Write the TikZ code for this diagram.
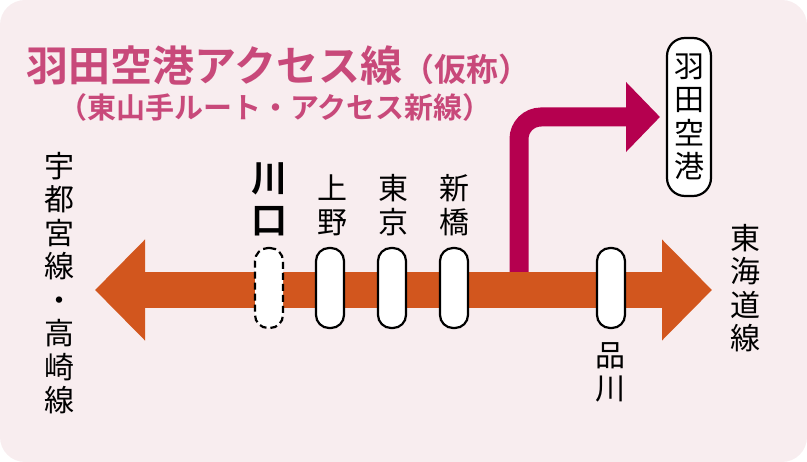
\documentclass[tikz,border=0pt]{standalone}
\usepackage{fontspec}
\setmainfont{Noto Sans CJK JP}
\newfontfamily\cjkbold{Noto Sans CJK JP Bold}
\usetikzlibrary{arrows.meta,positioning}
\definecolor{bgpink}{HTML}{F8EDEF}
\definecolor{titlepink}{HTML}{C8497A}
\definecolor{linered}{HTML}{B5004F}
\definecolor{lineorange}{HTML}{D2561E}
\begin{document}
\begin{tikzpicture}[x=1pt,y=-1pt,
  station/.style={draw, line width=2.2pt, fill=white, rounded corners=13pt, minimum width=28pt, minimum height=80pt, inner sep=0pt},
  vlabel/.style={align=center, font=\fontsize{30}{33.5}\selectfont, inner sep=0pt}]
    \useasboundingbox (0,0) rectangle (807,462);
    \fill[bgpink, rounded corners=25pt] (0,0) rectangle (807,462);

    % Title
    \node[anchor=west, text=titlepink, font=\cjkbold\fontsize{42}{44}\selectfont, inner sep=0pt] (title) at (26,66)
      {羽田空港アクセス線{\fontsize{32}{34}\selectfont（仮称）}};
    \node[anchor=west, text=titlepink, font=\cjkbold\fontsize{29}{31}\selectfont, inner sep=0pt] (subtitle) at (58,107)
      {（東山手ルート・アクセス新線）};

    % Main line
    \coordinate (west) at (95,290);
    \coordinate (east) at (712,290);
    \draw[lineorange, line width=36pt, -{Triangle[length=50pt, width=98pt]}] (145,290) -- (east);
    \draw[lineorange, line width=36pt, -{Triangle[length=50pt, width=98pt]}] (662,290) -- (west);

    % Access line
    \coordinate (branch) at (519,272);
    \coordinate (airport) at (660,117);
    \draw[linered, line width=19pt, rounded corners=22pt, -{Triangle[length=34pt, width=68pt]}]
      (branch) |- (airport);

    % Stations
    \node[station, dash pattern=on 7pt off 4pt] (kawaguchi) at (269,288) {};
    \node[station] (ueno) at (330,288) {};
    \node[station] (tokyo) at (392,288) {};
    \node[station] (shimbashi) at (454,288) {};
    \node[station] (shinagawa) at (611,288) {};

    % Station names
    \node[vlabel, font=\cjkbold\fontsize{36}{42}\selectfont, anchor=south] (lkawaguchi) at (269,236) {川\\口};
    \node[vlabel, anchor=south] (lueno) at (332,236) {上\\野};
    \node[vlabel, anchor=south] (ltokyo) at (393,236) {東\\京};
    \node[vlabel, anchor=south] (lshimbashi) at (454,236) {新\\橋};
    \node[vlabel, anchor=north] (lshinagawa) at (610,342) {品\\川};

    % Through lines
    \node[vlabel, anchor=north] (utsunomiya) at (59,152) {宇\\都\\宮\\線\\・\\高\\崎\\線};
    \node[vlabel, anchor=north] (tokaido) at (745,224) {東\\海\\道\\線};

    % Airport
    \node[vlabel, draw, line width=2.2pt, fill=white, rounded corners=18pt, minimum width=44pt, minimum height=158pt]
      (haneda) at (689,117) {羽\\田\\空\\港};
\end{tikzpicture}
\end{document}
